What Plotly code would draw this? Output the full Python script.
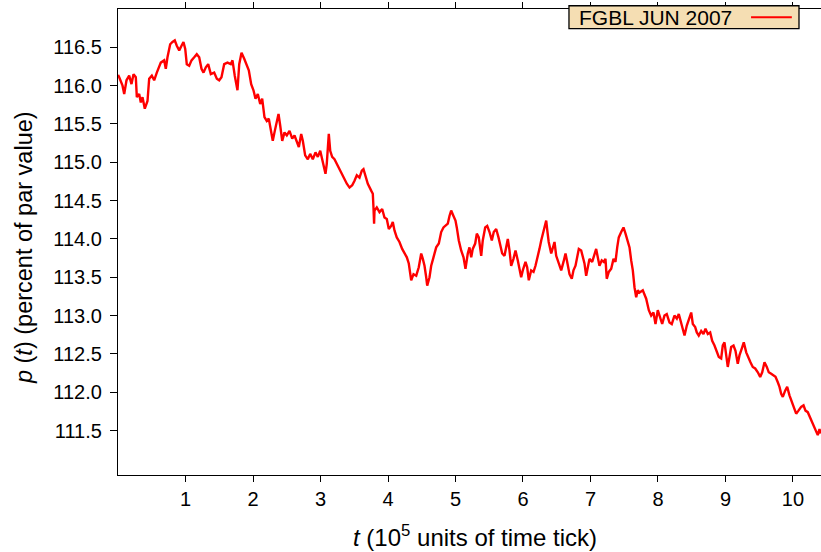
import plotly.graph_objects as go

# FGBL (Euro-Bund future) June 2007 contract: price vs. time tick
t_ticks = [
    0.000, 0.018, 0.067, 0.092, 0.126, 0.166, 0.200, 0.230, 0.264, 0.279, 0.314,
    0.338, 0.363, 0.397, 0.437, 0.462, 0.501, 0.536, 0.575, 0.610, 0.634,
    0.684, 0.708, 0.733, 0.773, 0.807, 0.841, 0.871, 0.907, 0.941, 0.970,
    0.996, 1.019, 1.055, 1.089, 1.129, 1.167, 1.203, 1.237, 1.267, 1.301,
    1.336, 1.375, 1.425, 1.464, 1.499, 1.533, 1.573, 1.622, 1.671, 1.696,
    1.730, 1.770, 1.796, 1.830, 1.870, 1.908, 1.938, 1.973, 2.007, 2.037,
    2.071, 2.107, 2.136, 2.170, 2.204, 2.234, 2.270, 2.293, 2.323, 2.353,
    2.378, 2.403, 2.433, 2.467, 2.501, 2.541, 2.581, 2.615, 2.649, 2.679,
    2.714, 2.738, 2.773, 2.812, 2.847, 2.886, 2.926, 2.960, 2.996, 3.034,
    3.074, 3.093, 3.123, 3.144, 3.173, 3.207, 3.241, 3.281, 3.321, 3.356,
    3.390, 3.430, 3.470, 3.504, 3.538, 3.578, 3.612, 3.637, 3.667, 3.701,
    3.751, 3.775, 3.785, 3.794, 3.800, 3.834, 3.874, 3.914, 3.948, 3.982,
    4.012, 4.047, 4.071, 4.096, 4.130, 4.170, 4.210, 4.244, 4.279, 4.308,
    4.344, 4.378, 4.418, 4.456, 4.492, 4.516, 4.541, 4.566, 4.581, 4.615,
    4.640, 4.674, 4.714, 4.753, 4.788, 4.822, 4.852, 4.886, 4.911, 4.936,
    4.970, 5.000, 5.019, 5.049, 5.084, 5.119, 5.148, 5.182, 5.207, 5.233,
    5.256, 5.292, 5.316, 5.345, 5.381, 5.404, 5.440, 5.470, 5.504, 5.538,
    5.567, 5.603, 5.637, 5.662, 5.692, 5.726, 5.751, 5.775, 5.800, 5.825,
    5.859, 5.889, 5.923, 5.948, 5.973, 5.997, 6.037, 6.062, 6.086, 6.121,
    6.156, 6.185, 6.219, 6.244, 6.270, 6.293, 6.319, 6.344, 6.363, 6.381,
    6.418, 6.441, 6.467, 6.492, 6.530, 6.566, 6.600, 6.630, 6.655, 6.689,
    6.723, 6.748, 6.778, 6.803, 6.827, 6.862, 6.886, 6.911, 6.936, 6.960,
    6.985, 7.025, 7.059, 7.084, 7.108, 7.133, 7.167, 7.197, 7.222, 7.241,
    7.271, 7.307, 7.341, 7.370, 7.396, 7.419, 7.455, 7.489, 7.519, 7.544,
    7.578, 7.603, 7.627, 7.652, 7.677, 7.701, 7.726, 7.775, 7.825, 7.864,
    7.899, 7.933, 7.963, 7.997, 8.033, 8.062, 8.096, 8.130, 8.170, 8.204,
    8.244, 8.279, 8.308, 8.344, 8.367, 8.393, 8.427, 8.456, 8.492, 8.516,
    8.551, 8.575, 8.604, 8.640, 8.674, 8.704, 8.738, 8.773, 8.803, 8.837,
    8.871, 8.901, 8.936, 8.960, 8.985, 9.010, 9.034, 9.059, 9.084, 9.119,
    9.148, 9.182, 9.207, 9.241, 9.271, 9.307, 9.341, 9.370, 9.404, 9.440,
    9.479, 9.514, 9.544, 9.578, 9.612, 9.641, 9.677, 9.711, 9.741, 9.775,
    9.800, 9.825, 9.849, 9.884, 9.914, 9.948, 9.982, 10.012, 10.047, 10.081,
    10.121, 10.156, 10.185, 10.219, 10.255, 10.284, 10.319, 10.344, 10.367,
    10.393, 10.407,
]

price = [
    116.14, 116.11, 116.00, 115.89, 116.07, 116.13, 116.02, 116.15, 116.11, 115.85, 115.89,
    115.78, 115.85, 115.70, 115.80, 116.09, 116.13, 116.07, 116.17, 116.24, 116.30,
    116.33, 116.22, 116.37, 116.54, 116.57, 116.59, 116.52, 116.46, 116.52, 116.57,
    116.48, 116.28, 116.26, 116.33, 116.37, 116.41, 116.37, 116.22, 116.17, 116.24,
    116.28, 116.15, 116.17, 116.09, 116.07, 116.11, 116.28, 116.30, 116.28, 116.33,
    116.13, 115.94, 116.28, 116.43, 116.35, 116.26, 116.20, 116.02, 115.94, 115.83,
    115.89, 115.76, 115.83, 115.59, 115.54, 115.57, 115.39, 115.28, 115.41, 115.54,
    115.63, 115.48, 115.28, 115.39, 115.35, 115.41, 115.31, 115.35, 115.28, 115.20,
    115.37, 115.28, 115.09, 115.04, 115.11, 115.04, 115.13, 115.07, 115.15, 115.00,
    114.85, 114.98, 115.37, 115.15, 115.07, 115.04, 114.98, 114.91, 114.83, 114.76,
    114.72, 114.67, 114.70, 114.76, 114.83, 114.80, 114.89, 114.91, 114.83, 114.72,
    114.63, 114.59, 114.41, 114.20, 114.37, 114.41, 114.35, 114.39, 114.28, 114.26,
    114.13, 114.17, 114.22, 114.11, 114.02, 113.96, 113.87, 113.81, 113.76, 113.68,
    113.46, 113.54, 113.52, 113.63, 113.81, 113.74, 113.65, 113.50, 113.39, 113.50,
    113.65, 113.76, 113.89, 113.94, 114.09, 114.15, 114.17, 114.20, 114.30, 114.37,
    114.30, 114.24, 114.15, 113.98, 113.85, 113.76, 113.61, 113.81, 113.89, 113.76,
    113.87, 113.94, 114.07, 114.02, 113.78, 113.98, 114.15, 114.17, 114.09, 113.98,
    114.09, 114.13, 114.02, 113.94, 113.81, 113.78, 113.89, 114.00, 113.85, 113.65,
    113.74, 113.85, 113.72, 113.59, 113.50, 113.59, 113.70, 113.63, 113.46, 113.59,
    113.57, 113.65, 113.76, 113.87, 113.98, 114.07, 114.13, 114.24, 114.09, 113.96,
    113.81, 113.87, 113.96, 113.78, 113.68, 113.59, 113.70, 113.81, 113.70, 113.54,
    113.48, 113.59, 113.65, 113.76, 113.87, 113.85, 113.76, 113.68, 113.52, 113.63,
    113.74, 113.70, 113.81, 113.87, 113.76, 113.65, 113.72, 113.70, 113.74, 113.48,
    113.57, 113.61, 113.74, 113.70, 113.89, 114.02, 114.09, 114.15, 114.07, 113.98,
    113.89, 113.72, 113.59, 113.37, 113.24, 113.33, 113.30, 113.33, 113.22, 113.07,
    113.00, 113.04, 112.89, 113.07, 112.98, 112.89, 113.00, 113.02, 112.91, 112.89,
    113.00, 112.96, 113.02, 112.89, 112.80, 112.74, 112.87, 112.96, 113.04, 112.89,
    112.85, 112.78, 112.74, 112.80, 112.76, 112.83, 112.76, 112.78, 112.67, 112.61,
    112.52, 112.46, 112.44, 112.61, 112.65, 112.46, 112.33, 112.46, 112.59, 112.61,
    112.54, 112.37, 112.48, 112.57, 112.65, 112.52, 112.44, 112.39, 112.33, 112.31,
    112.26, 112.20, 112.26, 112.39, 112.33, 112.26, 112.24, 112.22, 112.20, 112.13,
    112.07, 111.98, 111.94, 112.02, 112.07, 111.96, 111.87, 111.81, 111.72, 111.76,
    111.81, 111.83, 111.76, 111.74, 111.67, 111.61, 111.54, 111.48, 111.44,
    111.52, 111.46,
]

x_tickvals = [1, 2, 3, 4, 5, 6, 7, 8, 9, 10]
y_tickvals = [111.5, 112.0, 112.5, 113.0, 113.5, 114.0, 114.5, 115.0, 115.5, 116.0, 116.5]
y_ticktext = [f"{v:.1f}" for v in y_tickvals]
series_name = "FGBL JUN 2007"

FONT = "Liberation Sans, Arial, Helvetica, sans-serif"

fig = go.Figure()
fig.add_trace(go.Scatter(
    x=t_ticks, y=price, mode="lines", name=series_name,
    line=dict(color="#ff0000", width=2.4), showlegend=False,
))

fig.update_xaxes(
    range=[0, 10.415], tickvals=x_tickvals, ticks="outside", ticklen=6,
    tickwidth=1.3, tickcolor="black", showline=True, linecolor="black",
    linewidth=1.3, mirror="ticks", showgrid=False, zeroline=False,
    tickfont=dict(family=FONT, size=20, color="black"),
)
fig.update_yaxes(
    range=[110.92, 117.0], tickvals=y_tickvals, ticktext=y_ticktext,
    ticks="outside", ticklen=7, tickwidth=1.3, tickcolor="black",
    showline=True, linecolor="black", linewidth=1.3, showgrid=False,
    zeroline=False, ticklabelstandoff=4,
    tickfont=dict(family=FONT, size=20, color="black"),
)

# Axis titles
fig.add_annotation(
    text="<i>t</i> (10<sup>5</sup> units of time tick)",
    xref="paper", yref="paper", x=0.508, y=-0.131,
    xanchor="center", yanchor="middle", showarrow=False,
    font=dict(family=FONT, size=24, color="black"),
)
fig.add_annotation(
    text="<i>p</i> (<i>t</i>) (percent of par value)",
    xref="paper", yref="paper", x=-0.1337, y=0.487, textangle=-90,
    xanchor="center", yanchor="middle", showarrow=False,
    font=dict(family=FONT, size=23.5, color="black"),
)

# Legend box with the series label and its line sample on the right
fig.add_shape(
    type="rect", xref="paper", yref="paper",
    x0=0.6415, x1=0.9687, y0=0.958, y1=1.007,
    fillcolor="#f5deb3", line=dict(color="black", width=1.3), layer="above",
)
fig.add_annotation(
    text=series_name, xref="paper", yref="paper", x=0.6525, y=0.9825,
    xanchor="left", yanchor="middle", showarrow=False,
    font=dict(family=FONT, size=21, color="black"),
)
fig.add_shape(
    type="line", xref="paper", yref="paper",
    x0=0.9005, x1=0.9585, y0=0.9825, y1=0.9825,
    line=dict(color="#ff0000", width=2), layer="above",
)

fig.update_layout(
    width=821, height=552,
    margin=dict(l=118, r=0, t=9, b=77),
    plot_bgcolor="white", paper_bgcolor="white",
)

fig.write_html("out.html")
